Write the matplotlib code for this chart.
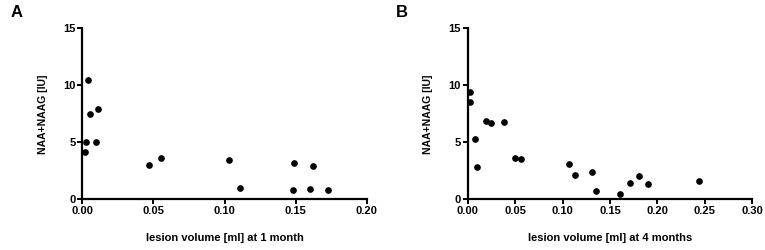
import numpy as np
import matplotlib.pyplot as plt

plt.rcParams["font.family"] = ["Liberation Sans", "DejaVu Sans"]
plt.rcParams["font.weight"] = "bold"

# panel A: 1 month
vol_1m = [0.0019, 0.0028, 0.0042, 0.0052, 0.0096, 0.0113, 0.0471, 0.0556,
          0.1034, 0.1109, 0.1486, 0.1620, 0.1484, 0.1600, 0.1728]
naa_1m = [4.18, 5.0, 10.47, 7.49, 5.0, 7.9, 3.04, 3.63,
          3.48, 0.99, 3.16, 2.95, 0.85, 0.94, 0.82]

# panel B: 4 months
vol_4m = [0.0021, 0.0025, 0.0081, 0.0102, 0.0193, 0.0242, 0.0379, 0.0495, 0.0566,
          0.1064, 0.1128, 0.1314, 0.1352, 0.1609, 0.1707, 0.1809, 0.1904, 0.2441]
naa_4m = [9.44, 8.54, 5.26, 2.87, 6.87, 6.73, 6.81, 3.63, 3.57,
          3.10, 2.13, 2.43, 0.70, 0.44, 1.40, 2.08, 1.37, 1.64]

panels = [
    ("A", vol_1m, naa_1m, [0.0, 0.05, 0.10, 0.15, 0.20], "lesion volume [ml] at 1 month", 0.1076),
    ("B", vol_4m, naa_4m, [0.0, 0.05, 0.10, 0.15, 0.20, 0.25, 0.30], "lesion volume [ml] at 4 months", 0.6114),
]
yticks = [0, 5, 10, 15]

fig = plt.figure(figsize=(7.65, 2.5), dpi=100)

for letter, x, y, xt, xlab, left in panels:
    ax = fig.add_axes([left, 0.2028, 0.372, 0.684])
    ax.plot(x, y, "o", color="black", ms=3.8, clip_on=False)
    ax.set_xlim(xt[0], xt[-1])
    ax.set_ylim(0, 15)
    ax.set_xticks(xt)
    ax.set_xticklabels(["%.2f" % v for v in xt])
    ax.set_yticks(yticks)
    for s in ["top", "right"]:
        ax.spines[s].set_visible(False)
    for s in ["left", "bottom"]:
        ax.spines[s].set_linewidth(1.6)
    ax.tick_params(direction="out", length=3.5, width=1.4, labelsize=8, pad=1.5)
    for lab in ax.get_xticklabels() + ax.get_yticklabels():
        lab.set_fontweight("bold")
    ax.set_xlabel(xlab, fontsize=8, fontweight="bold", labelpad=12)
    ax.set_ylabel("NAA+NAAG [IU]", fontsize=7.5, fontweight="bold", labelpad=11)
    fig.text(left - 0.094, 0.95, letter, fontsize=12, fontweight="bold", ha="left", va="center")

fig.savefig("out.png", dpi=100)
